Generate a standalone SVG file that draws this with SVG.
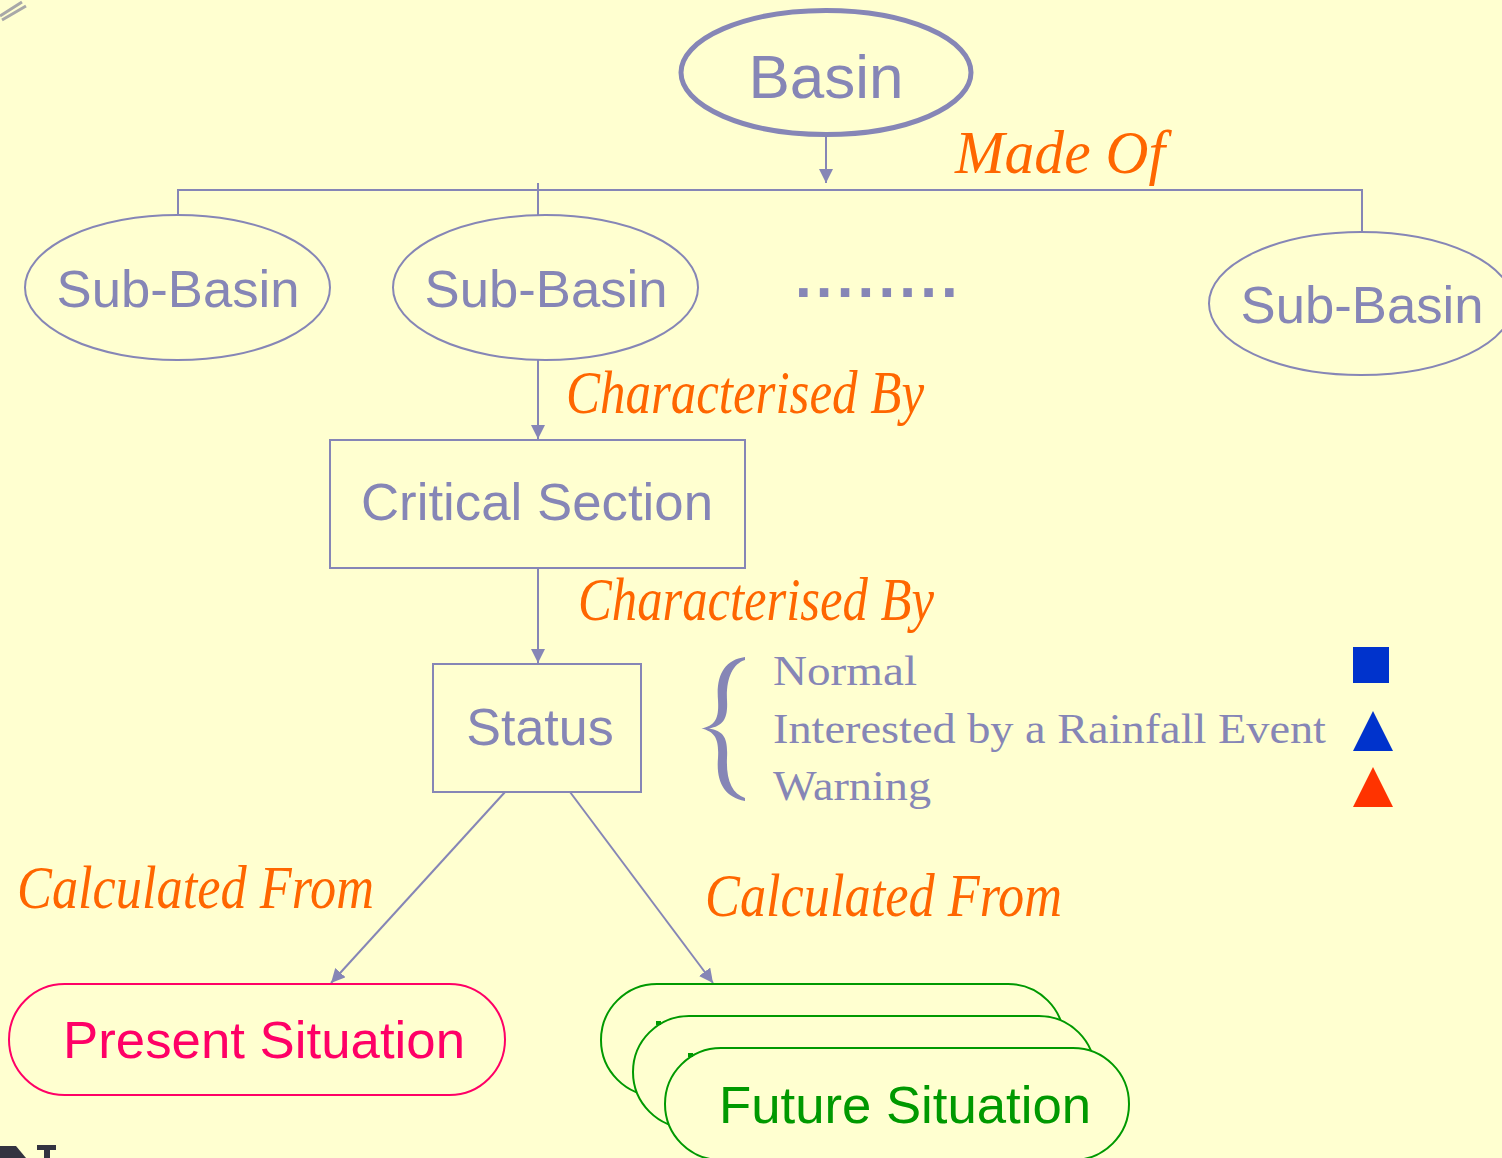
<svg xmlns="http://www.w3.org/2000/svg" width="1502" height="1158" viewBox="0 0 1502 1158">
<style>
.bg{fill:#FFFFD0}
.ln{stroke:#8686B6;stroke-width:2;fill:none}
.nd{stroke:#8686B6;stroke-width:2;fill:#FFFFD0}
.sans{font-family:"Liberation Sans",Arial,sans-serif;fill:#8686B6;font-size:52px}
.lbl{font-family:"Liberation Serif","Times New Roman",serif;font-style:italic;fill:#FF6600;font-size:62px}
.leg{font-family:"Liberation Serif","Times New Roman",serif;fill:#8686B6;font-size:42px}
.fut{stroke:#009900;stroke-width:2;fill:#FFFFD0}
.futt{font-family:"Liberation Sans",Arial,sans-serif;fill:#009900;font-size:52px}
</style>
<defs>
<marker id="ah" markerWidth="14" markerHeight="14" refX="14" refY="7" orient="auto" markerUnits="userSpaceOnUse">
<path d="M0,0 L14,7 L0,14 Z" fill="#8686B6"/>
</marker>
</defs>
<rect class="bg" x="0" y="0" width="1502" height="1158"/>

<g id="artifacts">
<path d="M0,16 L22,2 M2,20 L26,6" stroke="#A8A8A8" stroke-width="3" fill="none"/>
<polygon points="0,1146 16,1146 26,1158 0,1158" fill="#333340"/>
<polygon points="37,1145 56,1145 56,1150 50,1150 50,1158 44,1158 44,1150 37,1150" fill="#333340"/>
</g>

<g id="connectors">
<line class="ln" x1="826" y1="137" x2="826" y2="183" marker-end="url(#ah)"/>
<polyline class="ln" points="178,216 178,190 1362,190 1362,232"/>
<line class="ln" x1="538" y1="183" x2="538" y2="216"/>
<line class="ln" x1="538" y1="360" x2="538" y2="439" marker-end="url(#ah)"/>
<line class="ln" x1="538" y1="568" x2="538" y2="663" marker-end="url(#ah)"/>
<line class="ln" x1="505" y1="792" x2="331" y2="983" marker-end="url(#ah)"/>
<line class="ln" x1="570" y1="792" x2="713" y2="983" marker-end="url(#ah)"/>
</g>

<g id="labels">
<text class="lbl" x="955" y="173" textLength="210" lengthAdjust="spacingAndGlyphs">Made Of</text>
<text class="lbl" x="566" y="413" textLength="358" lengthAdjust="spacingAndGlyphs">Characterised By</text>
<text class="lbl" x="578" y="620" textLength="356" lengthAdjust="spacingAndGlyphs">Characterised By</text>
<text class="lbl" x="17" y="908" textLength="357" lengthAdjust="spacingAndGlyphs">Calculated From</text>
<text class="lbl" x="705" y="916" textLength="357" lengthAdjust="spacingAndGlyphs">Calculated From</text>
</g>

<g id="basin">
<ellipse cx="826" cy="72.5" rx="145" ry="62" fill="#FFFFD0" stroke="#8686B6" stroke-width="5"/>
<text class="sans" x="826" y="98" text-anchor="middle" style="font-size:62px">Basin</text>
</g>

<g id="subbasin1">
<ellipse class="nd" cx="177.5" cy="287.5" rx="152.5" ry="72.5"/>
<text class="sans" x="178" y="307" text-anchor="middle" textLength="243" lengthAdjust="spacingAndGlyphs">Sub-Basin</text>
</g>

<g id="subbasin2">
<ellipse class="nd" cx="545.5" cy="287.5" rx="152.5" ry="72.5"/>
<text class="sans" x="546" y="307" text-anchor="middle" textLength="243" lengthAdjust="spacingAndGlyphs">Sub-Basin</text>
</g>

<g id="dots">
<text class="sans" x="795" y="297" letter-spacing="4.2" style="font-size:60px;font-weight:bold">........</text>
</g>

<g id="subbasin3">
<ellipse class="nd" cx="1361" cy="303.5" rx="152" ry="71.5"/>
<text class="sans" x="1362" y="323" text-anchor="middle" textLength="243" lengthAdjust="spacingAndGlyphs">Sub-Basin</text>
</g>

<g id="critical-section">
<rect class="nd" x="330" y="440" width="415" height="128"/>
<text class="sans" x="537" y="520" text-anchor="middle" textLength="352" lengthAdjust="spacingAndGlyphs">Critical Section</text>
</g>

<g id="status">
<rect class="nd" x="433" y="664" width="208" height="128"/>
<text class="sans" x="540" y="745" text-anchor="middle">Status</text>
</g>

<g id="legend">
<path d="M745,657 C724,660 716,676 718,700 C719,718 716,725 701.5,728.5 C716,732 719,740 718,758 C716,782 724,797 745,801 L745,798 C732,794 726,780 727,758 C728,738 724,731 709,728.5 C724,726 728,718 727,700 C726,680 732,664 745,660 Z" fill="#8686B6"/>
<text class="leg" x="773" y="685" textLength="144" lengthAdjust="spacingAndGlyphs">Normal</text>
<text class="leg" x="773" y="743" textLength="553" lengthAdjust="spacingAndGlyphs">Interested by a Rainfall Event</text>
<text class="leg" x="773" y="800" textLength="158" lengthAdjust="spacingAndGlyphs">Warning</text>
<rect x="1353" y="647" width="36" height="36" fill="#0033CC"/>
<polygon points="1373,711 1393,751 1353,751" fill="#0033CC"/>
<polygon points="1373,767 1393,807 1353,807" fill="#FF3300"/>
</g>

<g id="present-situation">
<rect x="9" y="984" width="496" height="111" rx="55.5" ry="55.5" fill="#FFFFD0" stroke="#FF0066" stroke-width="2"/>
<text class="sans" x="264" y="1058" text-anchor="middle" style="fill:#FF0066" textLength="402" lengthAdjust="spacingAndGlyphs">Present Situation</text>
</g>

<g id="future-situation">
<rect class="fut" x="601" y="984" width="463" height="112" rx="56" ry="56"/>
<rect class="fut" x="633" y="1016" width="462" height="112" rx="56" ry="56"/>
<rect x="656" y="1021" width="5" height="4" fill="#009900"/>
<rect class="fut" x="665" y="1048" width="464" height="112" rx="56" ry="56"/>
<rect x="688" y="1053" width="5" height="4" fill="#009900"/>
<text class="futt" x="719" y="1123" textLength="372" lengthAdjust="spacingAndGlyphs">Future Situation</text>
</g>
</svg>
